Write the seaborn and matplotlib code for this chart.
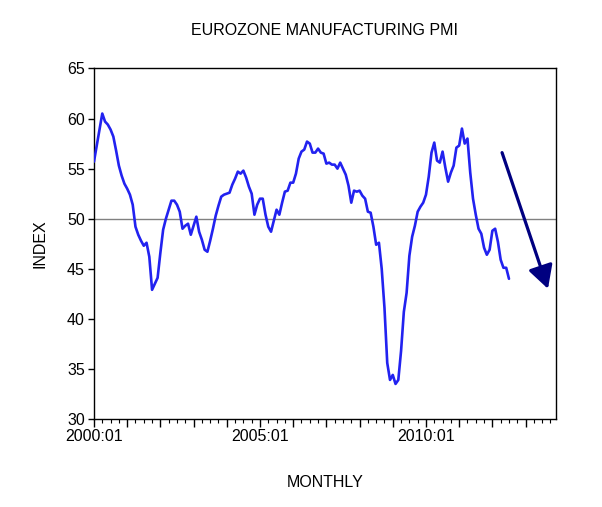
import numpy as np
import pandas as pd
import matplotlib
matplotlib.use("Agg")
import matplotlib.pyplot as plt
import seaborn as sns

# Eurozone manufacturing PMI, monthly from 2000:01
pmi = [
    55.7, 57.3, 58.9, 60.5, 59.7, 59.4, 58.9, 58.2, 56.8, 55.3, 54.3, 53.5,   # 2000
    53.0, 52.4, 51.4, 49.2, 48.4, 47.8, 47.3, 47.6, 46.2, 42.9, 43.5, 44.1,   # 2001
    46.6, 48.9, 50.0, 50.9, 51.8, 51.8, 51.4, 50.7, 49.0, 49.3, 49.5, 48.4,   # 2002
    49.3, 50.2, 48.7, 47.9, 46.9, 46.7, 47.8, 49.0, 50.3, 51.3, 52.2, 52.4,   # 2003
    52.5, 52.6, 53.4, 54.0, 54.7, 54.5, 54.8, 54.1, 53.2, 52.5, 50.4, 51.4,   # 2004
    52.0, 52.0, 50.4, 49.2, 48.7, 49.8, 50.9, 50.4, 51.6, 52.7, 52.8, 53.6,   # 2005
    53.6, 54.5, 56.0, 56.7, 56.9, 57.7, 57.5, 56.6, 56.6, 57.0, 56.6, 56.5,   # 2006
    55.5, 55.6, 55.4, 55.4, 55.0, 55.6, 55.0, 54.4, 53.3, 51.6, 52.8, 52.7,   # 2007
    52.8, 52.3, 52.0, 50.7, 50.6, 49.2, 47.4, 47.6, 45.0, 41.1, 35.6, 33.9,   # 2008
    34.4, 33.5, 33.9, 36.8, 40.7, 42.6, 46.3, 48.2, 49.3, 50.7, 51.2, 51.6,   # 2009
    52.4, 54.2, 56.6, 57.6, 55.8, 55.6, 56.7, 55.1, 53.7, 54.6, 55.3, 57.1,   # 2010
    57.3, 59.0, 57.5, 58.0, 54.6, 52.0, 50.4, 49.0, 48.5, 47.1, 46.4, 46.9,   # 2011
    48.8, 49.0, 47.7, 45.9, 45.1, 45.1, 44.0,                                 # 2012
]
start_year = 2000
sample_end_year = 2013          # sample runs 2000:01 - 2013:12
labeled_years = [2000, 2005, 2010]
y_ticks = [30, 35, 40, 45, 50, 55, 60, 65]
ref_level = 50
arrow_start = (147.5, 56.6)     # (month index, index value)
arrow_end = (164.1, 43.0)

title = "EUROZONE MANUFACTURING PMI"
xlabel = "MONTHLY"
ylabel = "INDEX"

df = pd.DataFrame({"month": np.arange(len(pmi)), "pmi": pmi})

sns.set_style("white")
plt.rcParams["font.family"] = ["Liberation Sans", "DejaVu Sans"]
plt.rcParams["text.color"] = "black"
plt.rcParams["axes.labelcolor"] = "black"

fig = plt.figure(figsize=(6.02, 5.07), dpi=100)
ax = fig.add_axes([0.1561, 0.1736, 0.7675, 0.6913])

ax.axhline(ref_level, color="#808080", lw=1.0, zorder=1)
sns.lineplot(data=df, x="month", y="pmi", ax=ax, color="#2222f0", lw=1.9, zorder=3)

n_months = (sample_end_year - start_year + 1) * 12
ax.set_xlim(0, n_months - 1)
ax.set_ylim(y_ticks[0], y_ticks[-1])
ax.set_yticks(y_ticks)
ax.set_yticklabels([str(v) for v in y_ticks])

major = np.arange(0, n_months, 12)
ax.set_xticks(major)
ax.set_xticklabels([f"{start_year + i // 12}:01" if (start_year + i // 12) in labeled_years else ""
                    for i in major])
ax.set_xticks(np.arange(0, n_months, 3), minor=True)

ax.tick_params(axis="x", which="major", direction="out", length=5.5, width=1,
               bottom=True, top=False, labelsize=11.5, colors="black", pad=2)
ax.tick_params(axis="x", which="minor", direction="out", length=3, width=0.8,
               bottom=True, top=False, colors="black")
ax.tick_params(axis="y", which="major", direction="out", length=4.5, width=1,
               left=True, right=False, labelsize=11.5, colors="black", pad=2)

for s in ax.spines.values():
    s.set_color("black")
    s.set_linewidth(1.0)
    s.set_visible(True)

ax.set_xlabel(xlabel, fontsize=11.5, labelpad=22, color="black")
ax.set_ylabel(ylabel, fontsize=11.5, labelpad=14, color="black")
ax.set_title(title, fontsize=11.5, pad=24, color="black")

ax.annotate("", xy=arrow_end, xytext=arrow_start,
            arrowprops=dict(arrowstyle="-|>,head_length=0.7,head_width=0.38",
                            mutation_scale=20, color="#000080", lw=2.3,
                            shrinkA=0, shrinkB=0),
            zorder=4)

fig.savefig("out.png", dpi=100, facecolor="white")
